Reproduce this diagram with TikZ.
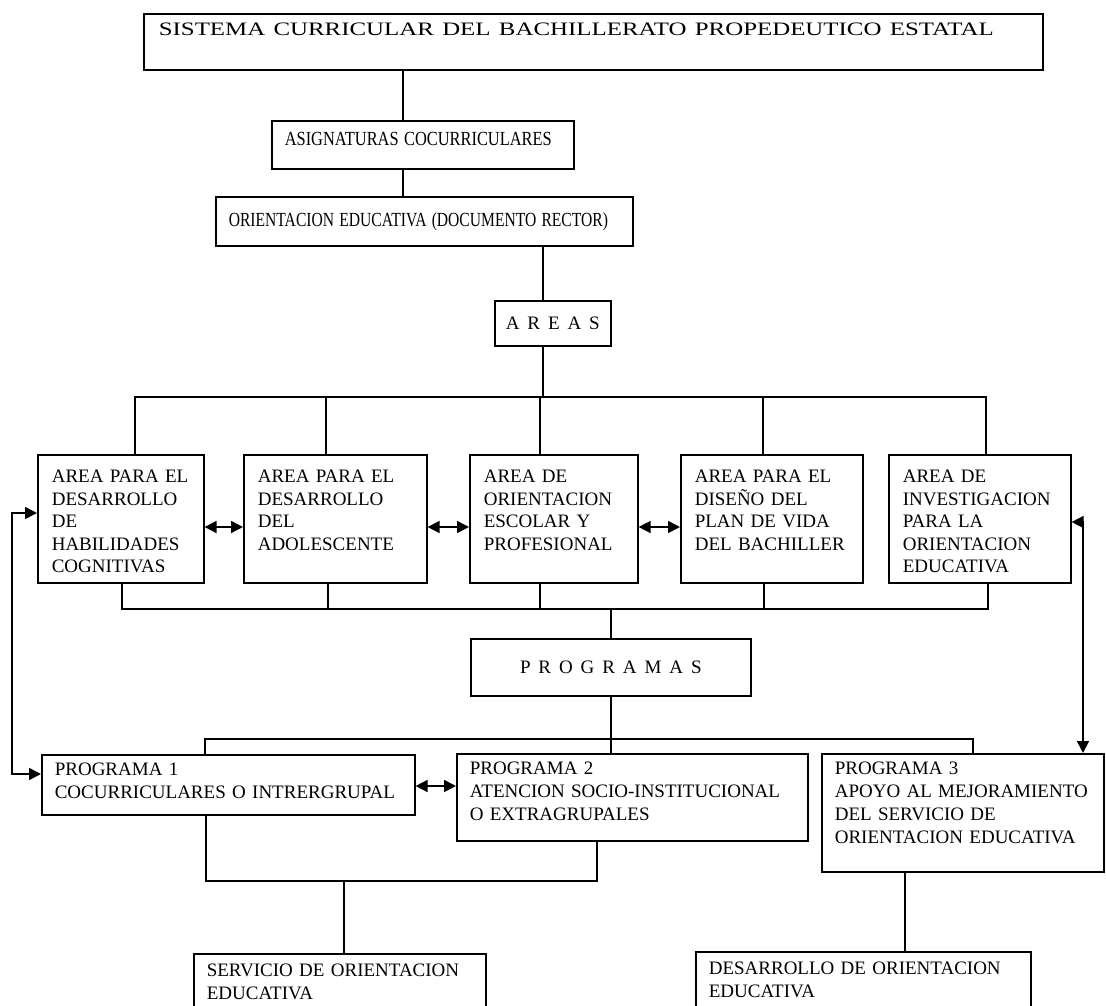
\documentclass[tikz,border=0pt]{standalone}
\usepackage{fontspec}
\setmainfont{Liberation Serif}
\usetikzlibrary{arrows.meta, positioning, calc}

\begin{document}
\begin{tikzpicture}[
    x=1pt, y=-1pt,
    caja/.style={draw, line width=1.6pt, anchor=north west, align=left, inner xsep=14pt, inner ysep=0pt},
    cabeza/.style={caja, align=center, inner xsep=0pt, font=\fontsize{19}{19}\selectfont},
    area/.style={caja, font=\fontsize{19}{22.5}\selectfont, text height=28pt, text depth=100pt},
    prog/.style={caja, inner xsep=13pt, font=\fontsize{19}{23}\selectfont, text height=21pt},
    linea/.style={line width=1.6pt},
    doble/.style={line width=1.6pt, {Triangle[length=12pt,width=12pt]}-{Triangle[length=12pt,width=12pt]}}
]
    \useasboundingbox (0,0) rectangle (1106,1005);

    % upper chain
    \node[caja, text width=869pt, inner xsep=15pt, text height=22pt, text depth=34pt, font=\fontsize{19}{19}\selectfont] (sistema) at (143,13)
        {\scalebox{1.31}[1]{SISTEMA CURRICULAR DEL BACHILLERATO PROPEDEUTICO ESTATAL}};
    \node[caja, text width=276pt, inner xsep=13pt, text height=25pt, text depth=23pt, font=\fontsize{20}{20}\selectfont] (asig) at (271,120)
        {\scalebox{0.82}[1]{ASIGNATURAS COCURRICULARES}};
    \node[caja, text width=391pt, inner xsep=13pt, text height=30pt, text depth=19pt, font=\fontsize{20}{20}\selectfont] (orient) at (215,196)
        {\scalebox{0.78}[1]{ORIENTACION EDUCATIVA (DOCUMENTO RECTOR)}};
    \node[cabeza, minimum width=116pt, minimum height=45pt] (areas) at (494,300) {A\, R\, E\, A\, S};

    % areas
    \node[area, text width=138pt] (a1) at (37,454) {AREA PARA EL\\DESARROLLO\\DE\\HABILIDADES\\COGNITIVAS};
    \node[area, text width=155pt] (a2) at (243,454) {AREA PARA EL\\DESARROLLO\\DEL\\ADOLESCENTE};
    \node[area, text width=140pt] (a3) at (469,454) {AREA DE\\ORIENTACION\\ESCOLAR Y\\PROFESIONAL};
    \node[area, text width=154pt] (a4) at (680,454) {AREA PARA EL\\DISEÑO DEL\\PLAN DE VIDA\\DEL BACHILLER};
    \node[area, text width=154pt] (a5) at (888,454) {AREA DE\\INVESTIGACION\\PARA LA\\ORIENTACION\\EDUCATIVA};

    \node[cabeza, minimum width=280pt, minimum height=57pt] (programas) at (470,638) {P\, R\, O\, G\, R\, A\, M\, A\, S};

    % programas
    \node[prog, text width=347pt, text depth=39pt] (p1) at (41,754) {PROGRAMA 1\\COCURRICULARES O INTRERGRUPAL};
    \node[prog, text width=325pt, text depth=66pt] (p2) at (456,753) {PROGRAMA 2\\ATENCION SOCIO-INSTITUCIONAL\\O EXTRAGRUPALES};
    \node[prog, text width=256pt, text depth=97pt] (p3) at (821,753) {PROGRAMA 3\\APOYO AL MEJORAMIENTO\\DEL SERVICIO DE\\ORIENTACION EDUCATIVA};

    \node[prog, text width=266pt, text height=23pt, text depth=60pt] (servicio) at (193,953) {SERVICIO DE ORIENTACION\\EDUCATIVA};
    \node[prog, text width=309pt, text height=23pt, text depth=60pt] (desarrollo) at (695,951) {DESARROLLO DE ORIENTACION\\EDUCATIVA};

    % x of the vertical links
    \coordinate (c1) at (403,0);
    \coordinate (c2) at (543,0);
    \coordinate (d1) at (135,0);
    \coordinate (d2) at (326,0);
    \coordinate (d3) at (540,0);
    \coordinate (d4) at (763,0);
    \coordinate (d5) at (986,0);
    \coordinate (u1) at (122,0);
    \coordinate (u2) at (328,0);
    \coordinate (u3) at (540,0);
    \coordinate (u4) at (764,0);
    \coordinate (u5) at (988,0);
    \coordinate (g0) at (611,0);
    \coordinate (q1) at (205,0);
    \coordinate (q3) at (973,0);
    \coordinate (r1) at (206,0);
    \coordinate (r2) at (597,0);
    \coordinate (r3) at (344,0);
    \coordinate (r4) at (905,0);
    \coordinate (l0) at (12,0);
    \coordinate (rr) at (1083,0);
    % y of the buses and arrows
    \coordinate (busA) at (0,397);
    \coordinate (busB) at (0,609);
    \coordinate (busC) at (0,739);
    \coordinate (busD) at (0,881);
    \coordinate (hA) at (0,527);
    \coordinate (hP) at (0,786);
    \coordinate (hL1) at (0,513);
    \coordinate (hL2) at (0,774);
    \coordinate (hR) at (0,522);

    % links
    \draw[linea] (sistema.south -| c1) -- (asig.north -| c1);
    \draw[linea] (asig.south -| c1) -- (orient.north -| c1);
    \draw[linea] (orient.south -| c2) -- (areas.north -| c2);
    \draw[linea] (areas.south -| c2) -- (c2 |- busA);
    \draw[linea] (a1.north -| d1) -- (d1 |- busA) -- (d5 |- busA) -- (a5.north -| d5);
    \foreach \n/\d in {a2/d2, a3/d3, a4/d4}
        \draw[linea] (\n.north -| \d) -- (\d |- busA);
    \draw[linea] (a1.south -| u1) -- (u1 |- busB) -- (u5 |- busB) -- (a5.south -| u5);
    \foreach \n/\u in {a2/u2, a3/u3, a4/u4}
        \draw[linea] (\n.south -| \u) -- (\u |- busB);
    \draw[linea] (g0 |- busB) -- (programas.north -| g0);
    \draw[linea] (programas.south -| g0) -- (p2.north -| g0);
    \draw[linea] (p1.north -| q1) -- (q1 |- busC) -- (q3 |- busC) -- (p3.north -| q3);
    \draw[linea] (p1.south -| r1) -- (r1 |- busD) -- (r2 |- busD) -- (p2.south -| r2);
    \draw[linea] (r3 |- busD) -- (servicio.north -| r3);
    \draw[linea] (p3.south -| r4) -- (desarrollo.north -| r4);

    % double arrows
    \draw[doble] (a1.east |- hA) -- (a2.west |- hA);
    \draw[doble] (a2.east |- hA) -- (a3.west |- hA);
    \draw[doble] (a3.east |- hA) -- (a4.west |- hA);
    \draw[doble] (p1.east |- hP) -- (p2.west |- hP);
    \draw[doble] (a1.west |- hL1) -- (l0 |- hL1) -- (l0 |- hL2) -- (p1.west |- hL2);
    \draw[doble] (a5.east |- hR) -- (rr |- hR) -- (p3.north -| rr);
\end{tikzpicture}
\end{document}
